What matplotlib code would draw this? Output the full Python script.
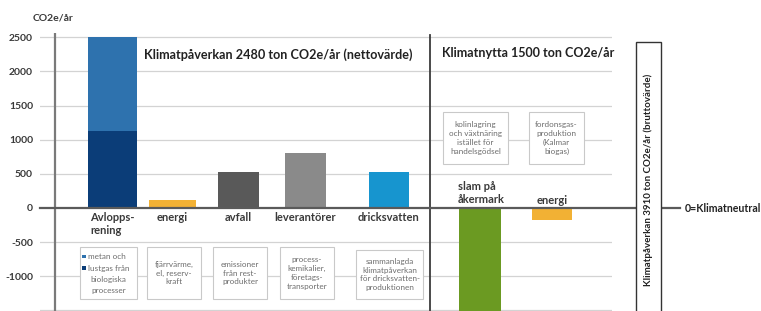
import matplotlib
matplotlib.use("Agg")
import matplotlib.pyplot as plt
from matplotlib.patches import Rectangle
from matplotlib.lines import Line2D

plt.rcParams['font.family'] = ['Lato', 'DejaVu Sans']

# ---------------- data ----------------
categories = ["Avlopps-\nrening", "energi", "avfall", "leverantörer", "dricksvatten",
              "slam på\nåkermark", "energi"]
avlopp_lustgas = 1130          # dark lower segment
avlopp_metan = 2500 - 1130     # light upper segment
impact_values = [120, 530, 810, 520]     # energi, avfall, leverantörer, dricksvatten
benefit_values = [-1550, -180]           # slam på åkermark, energi (nytta)
yticks = [2500, 2000, 1500, 1000, 500, 0, -500, -1000]

title_impact = "Klimatpåverkan 2480 ton CO2e/år (nettovärde)"
title_benefit = "Klimatnytta 1500 ton CO2e/år"
gross_text = "Klimatpåverkan 3910 ton CO2e/år (bruttovärde)"
zero_text = "0=Klimatneutral"
ylabel_text = "CO2e/år"

notes_bottom = ["fjärrvärme,\nel, reserv-\nkraft",
                "emissioner\nfrån rest-\nprodukter",
                "process-\nkemikalier,\nföretags-\ntransporter",
                "sammanlagda\nklimatpåverkan\nför dricksvatten-\nproduktionen"]
notes_top = ["kolinlagring\noch växtnäring\nistället för\nhandelsgödsel",
             "fordonsgas-\nproduktion\n(Kalmar\nbiogas)"]

# ---------------- layout / style ----------------
W, H = 761, 311
xpos = [112.5, 172, 238.5, 305.5, 389, 480, 552]
widths = [49, 47, 41, 41, 40, 42, 40]
c_metan = "#2E72AE"
c_lustgas = "#0B3D78"
c_energi = "#F2B134"
impact_colors = [c_energi, "#595959", "#8A8A8A", "#1795CF"]
benefit_colors = ["#6B9A22", c_energi]
grid_c = "#D3D3D3"
txt_c = "#3A3A3A"
note_c = "#6E6E6E"

fig = plt.figure(figsize=(W / 100, H / 100), dpi=100)

def fx(x):
    return x / W

def fy(y):
    return 1 - y / H

ax = fig.add_axes([40 / W, 0, 572 / W, 278 / H])
ax.set_xlim(40, 612)
ax.set_ylim(-1508, 2562)
for s in ax.spines.values():
    s.set_visible(False)
ax.set_xticks([])
ax.set_yticks(yticks)
ax.set_yticklabels([str(v) for v in yticks], fontsize=7.5, fontweight='bold', color=txt_c)
ax.tick_params(axis='y', length=0, pad=5)
for v in yticks + [-1500]:
    if v != 0:
        ax.axhline(v, color=grid_c, lw=0.9, zorder=0)

# bars
ax.bar(xpos[0], avlopp_lustgas, width=widths[0], color=c_lustgas, zorder=2)
ax.bar(xpos[0], avlopp_metan, bottom=avlopp_lustgas, width=widths[0], color=c_metan, zorder=2)
ax.bar(xpos[1:5], impact_values, width=widths[1:5], color=impact_colors, zorder=2)
ax.bar(xpos[5:7], benefit_values, width=widths[5:7], color=benefit_colors, zorder=2)

# axis line and separator
ax.axvline(55, color="#7A7A7A", lw=1.6, zorder=3)
ax.plot([430, 430], [-1508, 2530], color="#3C3C3C", lw=1.3, zorder=3)

# zero line extending outside axes
fig.add_artist(Line2D([fx(40), fx(680)], [fy(208), fy(208)], color="#5A5A5A", lw=1.6, zorder=0.5))

# titles
ax.text(278.5, 2240, title_impact, ha='center', va='center', fontsize=9.1, fontweight='bold', color="#222222", zorder=4)
ax.text(528, 2265, title_benefit, ha='center', va='center', fontsize=9.0, fontweight='bold', color="#222222", zorder=4)
fig.text(fx(53), fy(18), ylabel_text, ha='center', va='center', fontsize=7.5, fontweight='bold', color=txt_c)

# category labels
lab_kw = dict(fontsize=8, fontweight='bold', color=txt_c, zorder=4)
ax.text(90, -60, categories[0], ha='left', va='top', linespacing=1.25, **lab_kw)
for i in range(1, 5):
    ax.text(xpos[i], -60, categories[i], ha='center', va='top', **lab_kw)
ax.text(458, 40, categories[5], ha='left', va='bottom', linespacing=1.2, **lab_kw)
ax.text(xpos[6], 110, categories[6], ha='center', va='center', **lab_kw)

# note boxes (pixel coords)
def box(x0, y0, x1, y1):
    fig.add_artist(Rectangle((fx(x0), fy(y1)), (x1 - x0) / W, (y1 - y0) / H,
                             transform=fig.transFigure, facecolor='white',
                             edgecolor="#C9C9C9", lw=0.8, zorder=1))

note_kw = dict(fontsize=5.9, color=note_c, zorder=2, linespacing=1.3)
bottom_boxes = [(147, 247, 201, 299), (213, 247, 267, 299), (280, 247, 334, 299), (356, 250, 423, 299)]
for (x0, y0, x1, y1), t in zip(bottom_boxes, notes_bottom):
    box(x0, y0, x1, y1)
    fig.text(fx((x0 + x1) / 2), fy((y0 + y1) / 2), t, ha='center', va='center', **note_kw)
top_boxes = [(443, 112, 508, 164), (529, 112, 584, 164)]
for (x0, y0, x1, y1), t in zip(top_boxes, notes_top):
    box(x0, y0, x1, y1)
    fig.text(fx((x0 + x1) / 2), fy((y0 + y1) / 2), t, ha='center', va='center', **note_kw)

# box 1 with legend squares
box(80, 247, 137, 299)
fig.add_artist(Rectangle((fx(82), fy(258)), 3.5 / W, 3.5 / H, transform=fig.transFigure,
                         facecolor=c_metan, edgecolor='none', zorder=2))
fig.add_artist(Rectangle((fx(82), fy(269.5)), 3.5 / W, 3.5 / H, transform=fig.transFigure,
                         facecolor=c_lustgas, edgecolor='none', zorder=2))
fig.text(fx(87.5), fy(256.5), "metan och", ha='left', va='center', fontsize=5.9, color=note_c, zorder=2)
fig.text(fx(87.5), fy(268), "lustgas från", ha='left', va='center', fontsize=5.9, color=note_c, zorder=2)
fig.text(fx(108.5), fy(279.5), "biologiska", ha='center', va='center', fontsize=5.9, color=note_c, zorder=2)
fig.text(fx(108.5), fy(291), "processer", ha='center', va='center', fontsize=5.9, color=note_c, zorder=2)

# gross box at right
fig.add_artist(Rectangle((fx(636), fy(320)), 25 / W, (320 - 42) / H, transform=fig.transFigure,
                         facecolor='white', edgecolor="#333333", lw=1.0, zorder=1))
fig.text(fx(648.5), fy(180), gross_text, rotation=90, ha='center', va='center',
         fontsize=7.0, fontweight='bold', color="#222222", zorder=2)
fig.text(fx(685), fy(208), zero_text, ha='left', va='center', fontsize=7.6,
         fontweight='bold', color="#222222", zorder=2)

fig.savefig("out.png", dpi=100)
